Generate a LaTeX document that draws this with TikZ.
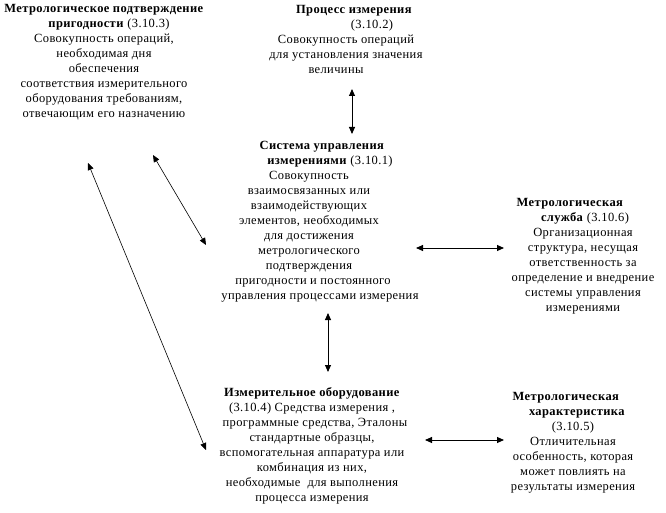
\documentclass[tikz,border=0pt]{standalone}
\usepackage{fontspec}
\setmainfont[LetterSpace=3]{Liberation Serif}
\usetikzlibrary{arrows.meta}
\begin{document}
\begin{tikzpicture}[x=1pt,y=1pt,
  txt/.style={align=center, inner sep=0pt, font=\fontsize{12.5}{15}\selectfont},
  link/.style={{Triangle[length=7pt,width=6pt]}-{Triangle[length=7pt,width=6pt]}, line width=0.9pt},
  dlink/.style={{Triangle[length=7pt,width=6pt]}-{Triangle[length=7pt,width=6pt]}, line width=0.6pt}]
\useasboundingbox (0,0) rectangle (666,-513);

\node[txt] (podtv) at (104,-62) {\textbf{Метрологическое подтверждение}\\
\hspace*{10pt}\textbf{пригодности} (3.10.3)\\
Совокупность операций,\\
необходимая дня\\
обеспечения\\
соответствия измерительного\\
оборудования требованиям,\\
отвечающим его назначению};

\node[txt] (proc) at (346,-39.5) {\hspace*{16pt}\textbf{Процесс измерения}\\
\hspace*{52pt}(3.10.2)\\
Совокупность операций\\
для установления значения\\
величины\hspace*{20pt}};

\node[txt] (sist) at (309,-221.5) {\hspace*{26pt}\textbf{Система управления}\\
\hspace*{42pt}\textbf{измерениями} (3.10.1)\\
Совокупность\\
взаимосвязанных или\\
взаимодействующих\hspace*{8pt}\\
элементов, необходимых\\
для достижения\\
метрологического\\
подтверждения\\
\hspace*{8pt}пригодности и постоянного\\
\hspace*{22pt}управления процессами измерения};

\node[txt] (sluzh) at (583,-256.5) {\textbf{Метрологическая}\hspace*{26pt}\\
\hspace*{4pt}\textbf{служба} (3.10.6)\\
Организационная\\
структура, несущая\\
ответственность за\\
определение и внедрение\\
системы управления\\
измерениями};

\node[txt] (izmob) at (312,-446) {\textbf{Измерительное оборудование}\\
(3.10.4) Средства измерения ,\\
\hspace*{6pt}программные средства, Эталоны\\
стандартные образцы,\\
вспомогательная аппаратура или\\
комбинация из них,\\
необходимые\ \ для выполнения\\
процесса измерения};

\node[txt] (harak) at (573,-443) {\textbf{Метрологическая}\hspace*{14pt}\\
\hspace*{8pt}\textbf{характеристика}\\
(3.10.5)\hspace*{16pt}\\
Отличительная\\
особенность, которая\\
может повлиять на\\
результаты измерения};

\coordinate (a1s) at (352,-89);  \coordinate (a1e) at (352,-134);
\coordinate (a2s) at (153,-155); \coordinate (a2e) at (206,-245);
\coordinate (a3s) at (88,-163);  \coordinate (a3e) at (206,-450);
\coordinate (a4s) at (416,-248); \coordinate (a4e) at (504,-248);
\coordinate (a5s) at (328,-313); \coordinate (a5e) at (328,-372);
\coordinate (a6s) at (425,-440); \coordinate (a6e) at (504,-440);

\draw[link] (a1s) -- (a1e);
\draw[dlink] (a2s) -- (a2e);
\draw[dlink] (a3s) -- (a3e);
\draw[link] (a4s) -- (a4e);
\draw[link] (a5s) -- (a5e);
\draw[link] (a6s) -- (a6e);
\end{tikzpicture}
\end{document}
